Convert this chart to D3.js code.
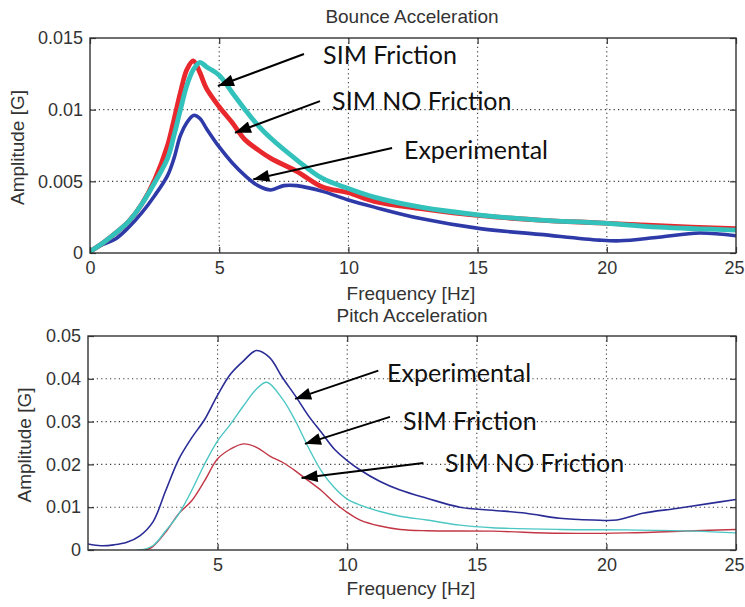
<!DOCTYPE html>
<html>
<head>
<meta charset="utf-8">
<script src="https://cdn.jsdelivr.net/npm/d3@7/dist/d3.min.js"></script>
<style>
  html, body { margin: 0; padding: 0; background: #fff; }
  svg { display: block; }
</style>
</head>
<body>
<svg id="chart" width="745" height="607"></svg>
<script>
// ---------------- DATA ----------------
const xTicksBounce = [0, 5, 10, 15, 20, 25];
const yTicksBounce = [0, 0.005, 0.01, 0.015];
const yTickLabelsBounce = ["0", "0.005", "0.01", "0.015"];
const xTicksPitch = [5, 10, 15, 20, 25];
const yTicksPitch = [0, 0.01, 0.02, 0.03, 0.04, 0.05];
const yTickLabelsPitch = ["0", "0.01", "0.02", "0.03", "0.04", "0.05"];

// Bounce acceleration [Hz, G]
const bounceExperimental = [[0,0.0001],[0.5,0.0006],[1,0.001],[1.5,0.0018],[2,0.0028],[2.5,0.004],[3,0.0054],[3.25,0.0066],[3.5,0.0082],[3.75,0.0091],[4,0.0096],[4.25,0.0094],[4.5,0.0087],[5,0.0074],[5.5,0.0063],[6,0.0054],[6.5,0.0047],[7,0.0044],[7.5,0.0047],[8,0.0047],[9,0.0043],[10,0.0037],[11,0.0032],[12.8,0.0024],[15.1,0.0017],[17.4,0.0013],[19.7,0.0009],[20.5,0.00085],[22,0.0011],[23.6,0.0014],[25,0.0012]];
const bounceSimNoFriction = [[0,0.0001],[0.5,0.0007],[1,0.0014],[1.5,0.0022],[2,0.0034],[2.5,0.0051],[3,0.0075],[3.25,0.0093],[3.5,0.0112],[3.75,0.0128],[4,0.0134],[4.25,0.0126],[4.5,0.0115],[5,0.0102],[5.5,0.0091],[6,0.0079],[6.5,0.0072],[7,0.0066],[8,0.0057],[9,0.0046],[10,0.0042],[11,0.0036],[12.8,0.0031],[15.1,0.0026],[17.4,0.0023],[19.7,0.0021],[22,0.0019],[25,0.0017]];
const bounceSimFriction = [[0,0.0001],[0.5,0.0007],[1,0.0014],[1.5,0.0022],[2,0.0034],[2.5,0.0049],[3,0.0066],[3.25,0.0082],[3.5,0.0100],[3.75,0.0117],[4,0.0128],[4.25,0.0133],[4.5,0.0130],[5,0.0124],[5.5,0.0112],[6,0.0100],[6.5,0.0089],[7,0.0080],[8,0.0065],[9,0.0052],[10,0.0045],[11,0.0039],[12.8,0.0032],[15.1,0.00265],[17.4,0.0023],[19.7,0.0021],[22,0.0018],[25,0.0016]];

// Pitch acceleration [Hz, G]
const pitchExperimental = [[0,0.0014],[0.5,0.001],[1,0.0012],[1.5,0.0018],[2,0.0033],[2.5,0.0065],[3,0.0139],[3.5,0.0212],[4,0.0262],[4.5,0.0305],[5,0.0362],[5.5,0.0411],[6,0.0442],[6.5,0.0466],[7,0.045],[7.5,0.0403],[8,0.036],[8.5,0.0314],[9,0.0275],[9.5,0.0236],[10,0.0209],[10.5,0.0187],[11.27,0.016],[12.04,0.014],[13.07,0.0121],[14.35,0.010],[15.6,0.0093],[16.9,0.0086],[18.2,0.0074],[19.5,0.007],[20.4,0.007],[21.4,0.0086],[22.7,0.0097],[24,0.0109],[25,0.0118]];
const pitchSimFriction = [[0,0],[2,0],[2.5,0.001],[3,0.0045],[3.5,0.0084],[4,0.0139],[4.5,0.0201],[5,0.0255],[5.5,0.0294],[6,0.0337],[6.5,0.0376],[6.9,0.0392],[7.5,0.0353],[8,0.0302],[8.5,0.024],[9,0.0185],[9.5,0.0146],[10,0.0119],[10.5,0.0105],[11.27,0.009],[12.04,0.0079],[13.07,0.007],[14.35,0.0058],[15.6,0.0052],[18.2,0.0048],[20.8,0.0047],[23.4,0.0044],[25,0.004]];
const pitchSimNoFriction = [[0,0],[2.2,0],[2.5,0.0008],[3,0.0042],[3.5,0.0085],[4,0.0115],[4.5,0.0162],[5,0.0213],[5.5,0.0236],[6,0.0248],[6.5,0.024],[7,0.022],[7.5,0.0205],[8,0.0185],[8.5,0.0162],[9,0.0139],[9.5,0.0111],[10,0.0088],[10.5,0.007],[11.27,0.0056],[12.04,0.0048],[13.07,0.0045],[15.6,0.0044],[18.2,0.0039],[20.8,0.004],[23.4,0.0045],[25,0.0048]];

// Annotations (text anchor + arrow, in data units)
const bounceNotes = [
  { text: "SIM Friction",    tx: 9.02,  ty: 0.01319, from: [8.28, 0.01388], to: [4.95, 0.01165] },
  { text: "SIM NO Friction", tx: 9.37,  ty: 0.00998, from: [8.90, 0.0106],  to: [5.61, 0.00839] },
  { text: "Experimental",    tx: 12.15, ty: 0.00656, from: [11.69, 0.00733], to: [6.32, 0.00514] }
];
const pitchNotes = [
  { text: "Experimental",    tx: 11.54, ty: 0.03925, from: [11.2, 0.0419],  to: [7.99, 0.0353] },
  { text: "SIM Friction",    tx: 12.15, ty: 0.02804, from: [11.65, 0.0311], to: [8.37, 0.0248] },
  { text: "SIM NO Friction", tx: 13.77, ty: 0.01822, from: [12.94, 0.0203], to: [8.24, 0.0168] }
];

// ---------------- DRAWING ----------------
const svg = d3.select("#chart");
const tickFont = "Liberation Sans, Arial, Helvetica, sans-serif";
const noteFont = "Lato, 'Open Sans', sans-serif";

svg.append("defs").append("marker")
  .attr("id", "arrowhead")
  .attr("markerUnits", "userSpaceOnUse")
  .attr("viewBox", "0 0 16 12")
  .attr("refX", 16).attr("refY", 6)
  .attr("markerWidth", 17).attr("markerHeight", 12)
  .attr("orient", "auto")
  .append("path").attr("d", "M0,0 L16,6 L0,12 Z").attr("fill", "#000");

const panels = [
  {
    title: "Bounce Acceleration", box: { l: 90, r: 736, t: 38, b: 253 },
    yMax: 0.015, xTicks: xTicksBounce, yTicks: yTicksBounce, yLabels: yTickLabelsBounce,
    titleY: 23, xLabelY: 300, yLabelX: 24,
    series: [
      { data: bounceExperimental, color: "#2e3aa8", width: 3.6 },
      { data: bounceSimNoFriction, color: "#e8282c", width: 4.8 },
      { data: bounceSimFriction, color: "#33c1bb", width: 4.8 }
    ],
    notes: bounceNotes
  },
  {
    title: "Pitch Acceleration", box: { l: 88, r: 736, t: 336, b: 550 },
    yMax: 0.05, xTicks: xTicksPitch, yTicks: yTicksPitch, yLabels: yTickLabelsPitch,
    titleY: 322, xLabelY: 595, yLabelX: 31,
    series: [
      { data: pitchExperimental, color: "#2a2c96", width: 1.6 },
      { data: pitchSimNoFriction, color: "#c23645", width: 1.4 },
      { data: pitchSimFriction, color: "#4cc7c4", width: 1.4 }
    ],
    notes: pitchNotes
  }
];

panels.forEach(p => {
  const g = svg.append("g");
  const x = d3.scaleLinear().domain([0, 25]).range([p.box.l, p.box.r]);
  const y = d3.scaleLinear().domain([0, p.yMax]).range([p.box.b, p.box.t]);

  // grid
  const grid = g.append("g").attr("stroke", "#3a3a3a").attr("stroke-width", 1.1)
    .attr("stroke-dasharray", "1.2,3.2");
  p.xTicks.filter(t => t > 0 && t < 25).forEach(t => {
    grid.append("line").attr("x1", x(t)).attr("x2", x(t)).attr("y1", p.box.t).attr("y2", p.box.b);
  });
  p.yTicks.filter(t => t > 0 && t < p.yMax).forEach(t => {
    grid.append("line").attr("x1", p.box.l).attr("x2", p.box.r).attr("y1", y(t)).attr("y2", y(t));
  });

  // series
  const line = d3.line().x(d => x(d[0])).y(d => y(d[1])).curve(d3.curveCatmullRom.alpha(0.5));
  const clipId = "clip" + p.box.t;
  svg.select("defs").append("clipPath").attr("id", clipId)
    .append("rect").attr("x", p.box.l).attr("y", p.box.t)
    .attr("width", p.box.r - p.box.l).attr("height", p.box.b - p.box.t);
  const sg = g.append("g").attr("clip-path", `url(#${clipId})`);
  p.series.forEach(s => {
    sg.append("path").datum(s.data).attr("d", line)
      .attr("fill", "none").attr("stroke", s.color).attr("stroke-width", s.width)
      .attr("stroke-linejoin", "round").attr("stroke-linecap", "round");
  });

  // axes (inward ticks on all sides)
  const fmtY = d => p.yLabels[p.yTicks.indexOf(d)];
  const styleAxis = sel => {
    sel.select(".domain").remove();
    sel.selectAll(".tick line").attr("stroke", "#333").attr("stroke-width", 1.2);
    sel.selectAll(".tick text").attr("fill", "#333").style("font-family", tickFont).style("font-size", "18px");
  };
  g.append("g").attr("transform", `translate(0,${p.box.b})`)
    .call(d3.axisBottom(x).tickValues(p.xTicks).tickSizeInner(-6).tickSizeOuter(0).tickPadding(8).tickFormat(d3.format("d")))
    .call(styleAxis)
    .call(sel => sel.selectAll(".tick text").filter(d => d === 25)
      .attr("text-anchor", "end").attr("dx", 8));
  g.append("g").attr("transform", `translate(0,${p.box.t})`)
    .call(d3.axisTop(x).tickValues(p.xTicks).tickSizeInner(-6).tickSizeOuter(0).tickFormat(""))
    .call(styleAxis);
  g.append("g").attr("transform", `translate(${p.box.l},0)`)
    .call(d3.axisLeft(y).tickValues(p.yTicks).tickSizeInner(-6).tickSizeOuter(0).tickPadding(7).tickFormat(fmtY))
    .call(styleAxis);
  g.append("g").attr("transform", `translate(${p.box.r},0)`)
    .call(d3.axisRight(y).tickValues(p.yTicks).tickSizeInner(-6).tickSizeOuter(0).tickFormat(""))
    .call(styleAxis);

  // frame
  g.append("rect").attr("x", p.box.l).attr("y", p.box.t)
    .attr("width", p.box.r - p.box.l).attr("height", p.box.b - p.box.t)
    .attr("fill", "none").attr("stroke", "#333").attr("stroke-width", 1.4);

  // texts
  g.append("text").attr("x", 412).attr("y", p.titleY).attr("text-anchor", "middle")
    .attr("fill", "#333").style("font-family", tickFont).style("font-size", "19px").text(p.title);
  g.append("text").attr("x", 411).attr("y", p.xLabelY).attr("text-anchor", "middle")
    .attr("fill", "#333").style("font-family", tickFont).style("font-size", "19px").text("Frequency [Hz]");
  g.append("text").attr("transform", `translate(${p.yLabelX},${(p.box.t + p.box.b) / 2 + 2}) rotate(-90)`)
    .attr("text-anchor", "middle").attr("fill", "#333")
    .style("font-family", tickFont).style("font-size", "19px").text("Amplitude [G]");

  // annotations
  p.notes.forEach(n => {
    g.append("line")
      .attr("x1", x(n.from[0])).attr("y1", y(n.from[1]))
      .attr("x2", x(n.to[0])).attr("y2", y(n.to[1]))
      .attr("stroke", "#000").attr("stroke-width", 2)
      .attr("marker-end", "url(#arrowhead)");
    g.append("text").attr("x", x(n.tx)).attr("y", y(n.ty))
      .attr("fill", "#111").style("font-family", noteFont).style("font-size", "25px")
      .text(n.text);
  });
});
</script>
</body>
</html>
